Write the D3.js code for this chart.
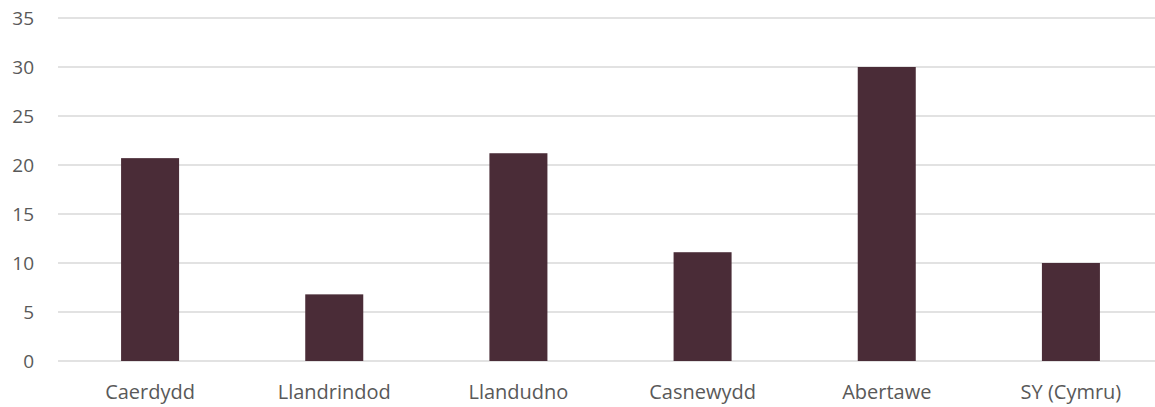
<!DOCTYPE html>
<html><head><meta charset="utf-8">
<script src="https://cdn.jsdelivr.net/npm/d3@7"></script>
<style>body{margin:0;background:#fff}svg{display:block}</style>
</head><body>
<svg id="c" width="1155" height="407"></svg>
<script>
const categories = ["Caerdydd","Llandrindod","Llandudno","Casnewydd","Abertawe","SY (Cymru)"];
const values = [20.7, 6.8, 21.2, 11.1, 30.0, 10.0];
const yTicks = [0,5,10,15,20,25,30,35];

const svg = d3.select("#c");
const x = d3.scaleBand().domain(categories).range([58, 1163]).paddingInner(0.685).paddingOuter(0.3425);
const y = d3.scaleLinear().domain([0,35]).range([361, 18]);
const font = "'Open Sans', sans-serif";

const yAxis = d3.axisLeft(y).tickValues(yTicks).tickSize(0).tickPadding(0);
const gy = svg.append("g").call(yAxis);
gy.select(".domain").remove();
gy.selectAll("text").attr("x", 34).attr("text-anchor","end").attr("dy","0.35em")
  .style("font-family", font).style("font-size","19px").attr("fill","#595959");

svg.append("g").selectAll("line").data(yTicks).join("line")
  .attr("x1", 58).attr("x2", 1163)
  .attr("y1", d => y(d)).attr("y2", d => y(d))
  .attr("stroke", "#d9d9d9").attr("stroke-width", 1.5);

svg.append("g").selectAll("rect").data(values).join("rect")
  .attr("x", (d,i) => x(categories[i]))
  .attr("width", x.bandwidth())
  .attr("y", d => y(d))
  .attr("height", d => y(0) - y(d))
  .attr("fill", "#4a2c37");

const xAxis = d3.axisBottom(x).tickSize(0).tickPadding(0);
const gx = svg.append("g").call(xAxis);
gx.select(".domain").remove();
gx.selectAll("text").attr("y", 399).attr("dy", null)
  .style("font-family", font).style("font-size","20px").attr("fill","#595959");
</script>
</body></html>
